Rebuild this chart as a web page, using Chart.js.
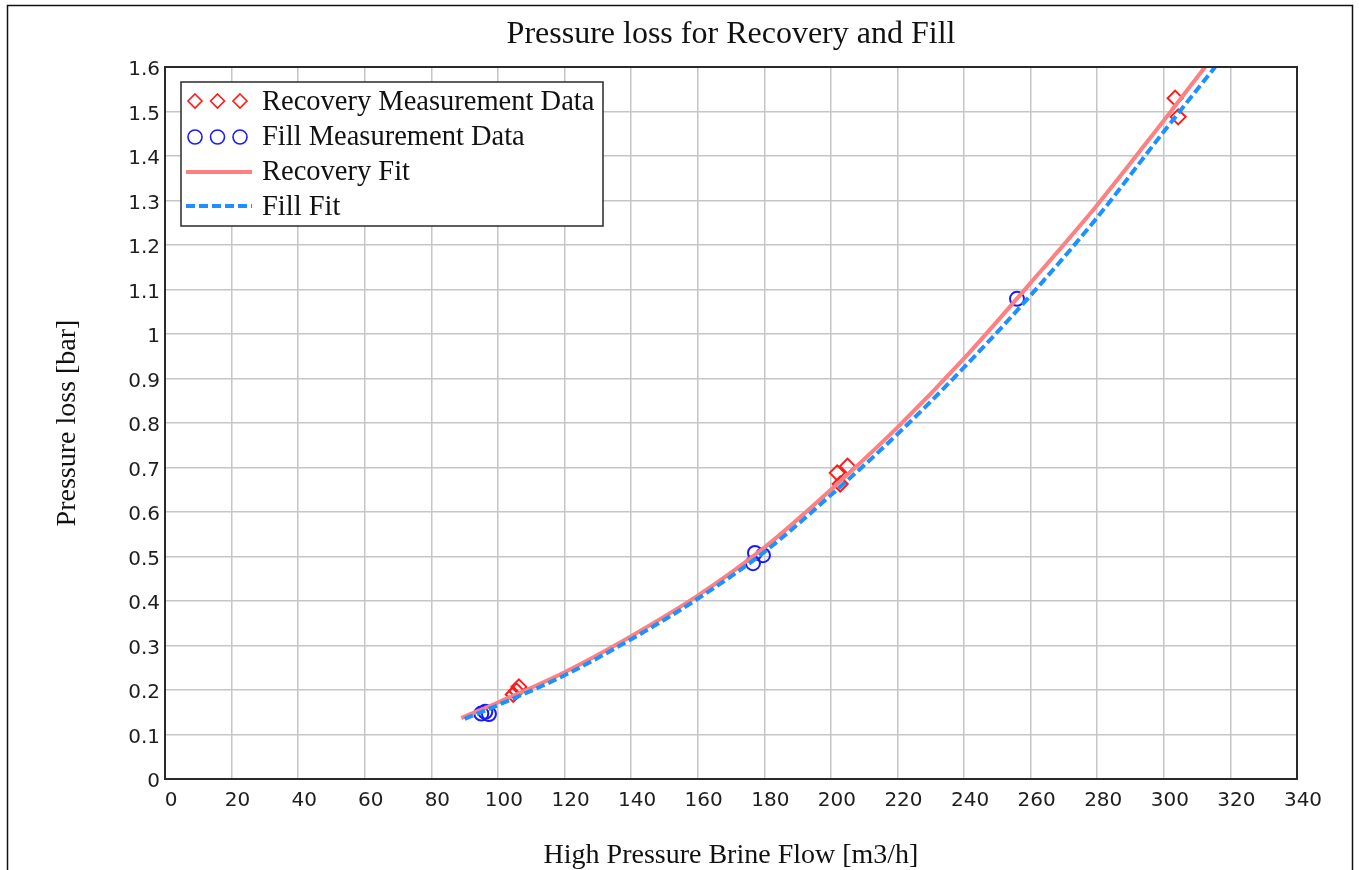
<!DOCTYPE html>
<html>
<head>
<meta charset="utf-8">
<script src="https://cdn.jsdelivr.net/npm/chart.js@4.4.1/dist/chart.umd.min.js"></script>
<style>
  html, body { margin: 0; padding: 0; background: #ffffff; }
  #wrap { width: 1359px; height: 870px; }
</style>
</head>
<body>
<div id="wrap"><canvas id="c" width="1359" height="870"></canvas></div>
<script>
// ---- data ----
const chartTitle = 'Pressure loss for Recovery and Fill';
const xAxisTitle = 'High Pressure Brine Flow [m3/h]';
const yAxisTitle = 'Pressure loss [bar]';
const seriesNames = ['Recovery Measurement Data', 'Fill Measurement Data', 'Recovery Fit', 'Fill Fit'];

const xTickLabels = ['0','20','40','60','80','100','120','140','160','180','200','220','240','260','280','300','320','340'];
const yTickLabels = ['0','0.1','0.2','0.3','0.4','0.5','0.6','0.7','0.8','0.9','1','1.1','1.2','1.3','1.4','1.5','1.6'];

const recoveryMeasX = [104.6, 105.6, 106.3, 201.9, 202.8, 205.0, 303.4, 304.3];
const recoveryMeasY = [0.190, 0.198, 0.207, 0.688, 0.663, 0.703, 1.530, 1.488];

const fillMeasX = [95.0, 96.2, 97.3, 176.6, 177.2, 179.6, 255.9];
const fillMeasY = [0.147, 0.151, 0.146, 0.485, 0.508, 0.503, 1.079];

const recoveryFitX = [89, 100, 120, 140, 160, 180, 200, 220, 240, 260, 280, 300, 312.4];
const recoveryFitY = [0.137, 0.172, 0.240, 0.321, 0.412, 0.52, 0.65, 0.79, 0.945, 1.115, 1.29, 1.48, 1.6];

const fillFitX = [90, 100, 120, 140, 160, 180, 200, 220, 240, 260, 280, 300, 315.4];
const fillFitY = [0.135, 0.166, 0.233, 0.314, 0.405, 0.51, 0.638, 0.775, 0.925, 1.087, 1.262, 1.455, 1.6];

const toPts = (xs, ys) => xs.map((x, i) => ({ x: x, y: ys[i] }));

const SERIF = '"Liberation Serif", "Times New Roman", serif';
const SANS = '"DejaVu Sans", Verdana, sans-serif';

// ---- frame, title and legend plugin ----
const decor = {
  id: 'decor',
  beforeDraw(chart) {
    const ctx = chart.ctx;
    ctx.save();
    ctx.fillStyle = '#ffffff';
    ctx.fillRect(0, 0, chart.width, chart.height);
    ctx.strokeStyle = '#111111';
    ctx.lineWidth = 1.5;
    ctx.strokeRect(7.5, 5.5, 1345, 900);
    ctx.restore();
  },
  afterDatasetsDraw(chart) {
    const ctx = chart.ctx;
    const a = chart.chartArea;
    ctx.save();
    // plot frame
    ctx.strokeStyle = '#2a2a2a';
    ctx.lineWidth = 2;
    ctx.strokeRect(a.left, a.top, a.right - a.left, a.bottom - a.top);

    // title
    ctx.fillStyle = '#111111';
    ctx.font = '32px ' + SERIF;
    ctx.textAlign = 'center';
    ctx.textBaseline = 'alphabetic';
    ctx.fillText(chartTitle, (a.left + a.right) / 2, 43);

    // legend box
    const lx = 181, ly = 82, lw = 422, lh = 144;
    ctx.fillStyle = '#ffffff';
    ctx.fillRect(lx, ly, lw, lh);
    ctx.strokeStyle = '#2a2a2a';
    ctx.lineWidth = 1.5;
    ctx.strokeRect(lx, ly, lw, lh);

    const ds = chart.data.datasets;
    const rowY = [101, 137, 172, 206];
    const baseY = [110, 145, 180, 215];
    const symX = [195, 217.5, 240];

    // row 1: diamonds
    ctx.strokeStyle = ds[0].borderColor;
    ctx.lineWidth = 1.6;
    symX.forEach(x => {
      const r = 7, y = rowY[0];
      ctx.beginPath();
      ctx.moveTo(x, y - r); ctx.lineTo(x + r, y); ctx.lineTo(x, y + r); ctx.lineTo(x - r, y);
      ctx.closePath(); ctx.stroke();
    });
    // row 2: circles
    ctx.strokeStyle = ds[1].borderColor;
    symX.forEach(x => {
      ctx.beginPath();
      ctx.arc(x, rowY[1], 7, 0, Math.PI * 2);
      ctx.stroke();
    });
    // row 3: solid line
    ctx.strokeStyle = ds[2].borderColor;
    ctx.lineWidth = ds[2].borderWidth;
    ctx.beginPath(); ctx.moveTo(186, rowY[2]); ctx.lineTo(252, rowY[2]); ctx.stroke();
    // row 4: dashed line
    ctx.strokeStyle = ds[3].borderColor;
    ctx.lineWidth = ds[3].borderWidth;
    ctx.setLineDash(ds[3].borderDash);
    ctx.beginPath(); ctx.moveTo(186, rowY[3]); ctx.lineTo(252, rowY[3]); ctx.stroke();
    ctx.setLineDash([]);

    ctx.fillStyle = '#111111';
    ctx.font = '28.5px ' + SERIF;
    ctx.textAlign = 'left';
    ctx.textBaseline = 'alphabetic';
    seriesNames.forEach((n, i) => ctx.fillText(n, 262, baseY[i]));
    ctx.restore();
  }
};

new Chart(document.getElementById('c'), {
  type: 'scatter',
  data: {
    datasets: [
      {
        label: seriesNames[0],
        data: toPts(recoveryMeasX, recoveryMeasY),
        pointStyle: 'rectRot', pointRadius: 7.5, pointBorderWidth: 2,
        borderColor: '#ff1a1a', backgroundColor: 'rgba(0,0,0,0)',
        showLine: false, order: 3
      },
      {
        label: seriesNames[1],
        data: toPts(fillMeasX, fillMeasY),
        pointStyle: 'circle', pointRadius: 7, pointBorderWidth: 2,
        borderColor: '#1a1aff', backgroundColor: 'rgba(0,0,0,0)',
        showLine: false, order: 2
      },
      {
        label: seriesNames[2],
        data: toPts(recoveryFitX, recoveryFitY),
        showLine: true, pointRadius: 0, borderWidth: 4,
        borderColor: '#ff8080', backgroundColor: '#ff8080',
        cubicInterpolationMode: 'monotone', order: 1
      },
      {
        label: seriesNames[3],
        data: toPts(fillFitX, fillFitY),
        showLine: true, pointRadius: 0, borderWidth: 4,
        borderColor: '#1e90ff', backgroundColor: '#1e90ff',
        borderDash: [9, 4], cubicInterpolationMode: 'monotone', order: 0
      }
    ]
  },
  options: {
    responsive: false,
    devicePixelRatio: 1,
    animation: false,
    events: [],
    layout: { padding: { top: 67, right: 62, left: 0, bottom: 0 } },
    plugins: {
      legend: { display: false },
      title: { display: false },
      tooltip: { enabled: false }
    },
    scales: {
      x: {
        type: 'linear', min: 0, max: 340,
        afterFit(s) { s.height = 91; },
        grid: { color: '#c6c6c6', lineWidth: 1.5, drawTicks: false },
        border: { display: false },
        ticks: {
          stepSize: 20, padding: 10, labelOffset: 6, maxRotation: 0, autoSkip: false,
          color: '#1e1e1e', font: { family: SANS, size: 20 },
          callback: (v, i) => xTickLabels[i]
        },
        title: {
          display: true, text: xAxisTitle, color: '#111111',
          font: { family: SERIF, size: 28, lineHeight: 1 },
          padding: { top: 1, bottom: 0 }
        }
      },
      y: {
        type: 'linear', min: 0, max: 1.6,
        afterFit(s) { s.width = 165; },
        grid: { color: '#c6c6c6', lineWidth: 1.5, drawTicks: false },
        border: { display: false },
        ticks: {
          stepSize: 0.1, padding: 5, labelOffset: 3, autoSkip: false,
          color: '#1e1e1e', font: { family: SANS, size: 20 },
          callback: (v, i) => yTickLabels[i]
        },
        title: {
          display: true, text: yAxisTitle, color: '#111111',
          font: { family: SERIF, size: 28, lineHeight: 1 },
          padding: { top: 54, bottom: 0 }
        }
      }
    }
  },
  plugins: [decor]
});
</script>
</body>
</html>
